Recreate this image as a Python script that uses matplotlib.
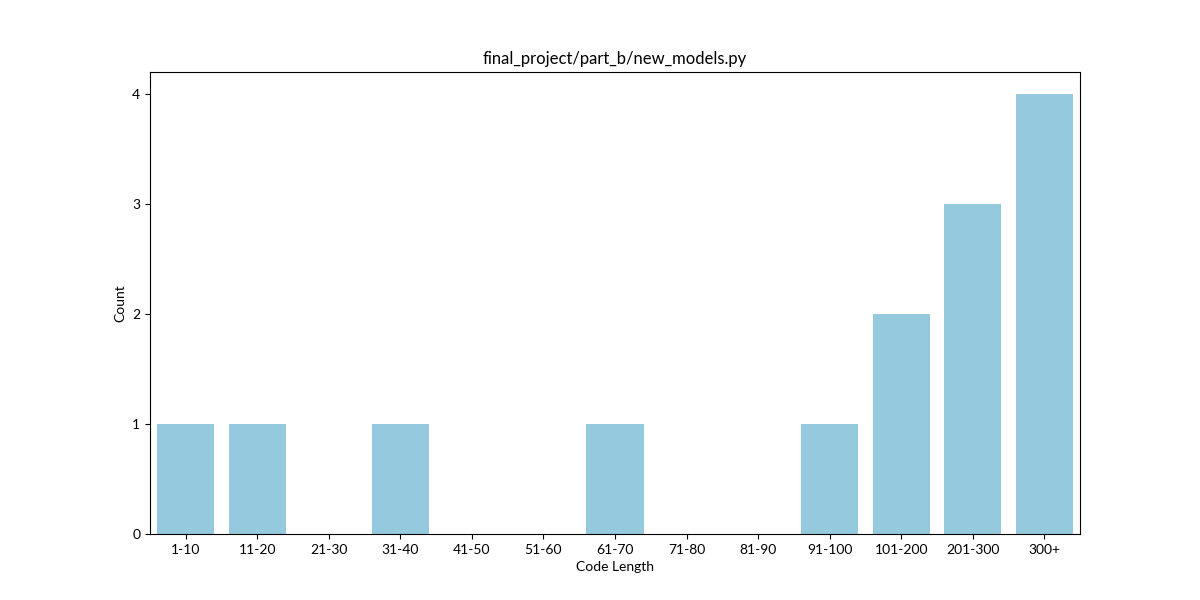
import matplotlib
matplotlib.use("Agg")
import matplotlib.pyplot as plt
import seaborn as sns

plt.rcParams['font.family'] = ['Lato', 'DejaVu Sans']

bins = ['1-10', '11-20', '21-30', '31-40', '41-50', '51-60', '61-70',
        '71-80', '81-90', '91-100', '101-200', '201-300', '300+']
counts = [1, 1, 0, 1, 0, 0, 1, 0, 0, 1, 2, 3, 4]

fig = plt.figure(figsize=(12, 6), dpi=100)
ax = sns.barplot(x=bins, y=counts, color='skyblue')
ax.set_title('final_project/part_b/new_models.py')
ax.set_xlabel('Code Length')
ax.set_ylabel('Count')
ax.set_yticks([0, 1, 2, 3, 4])

plt.savefig('out.png')
